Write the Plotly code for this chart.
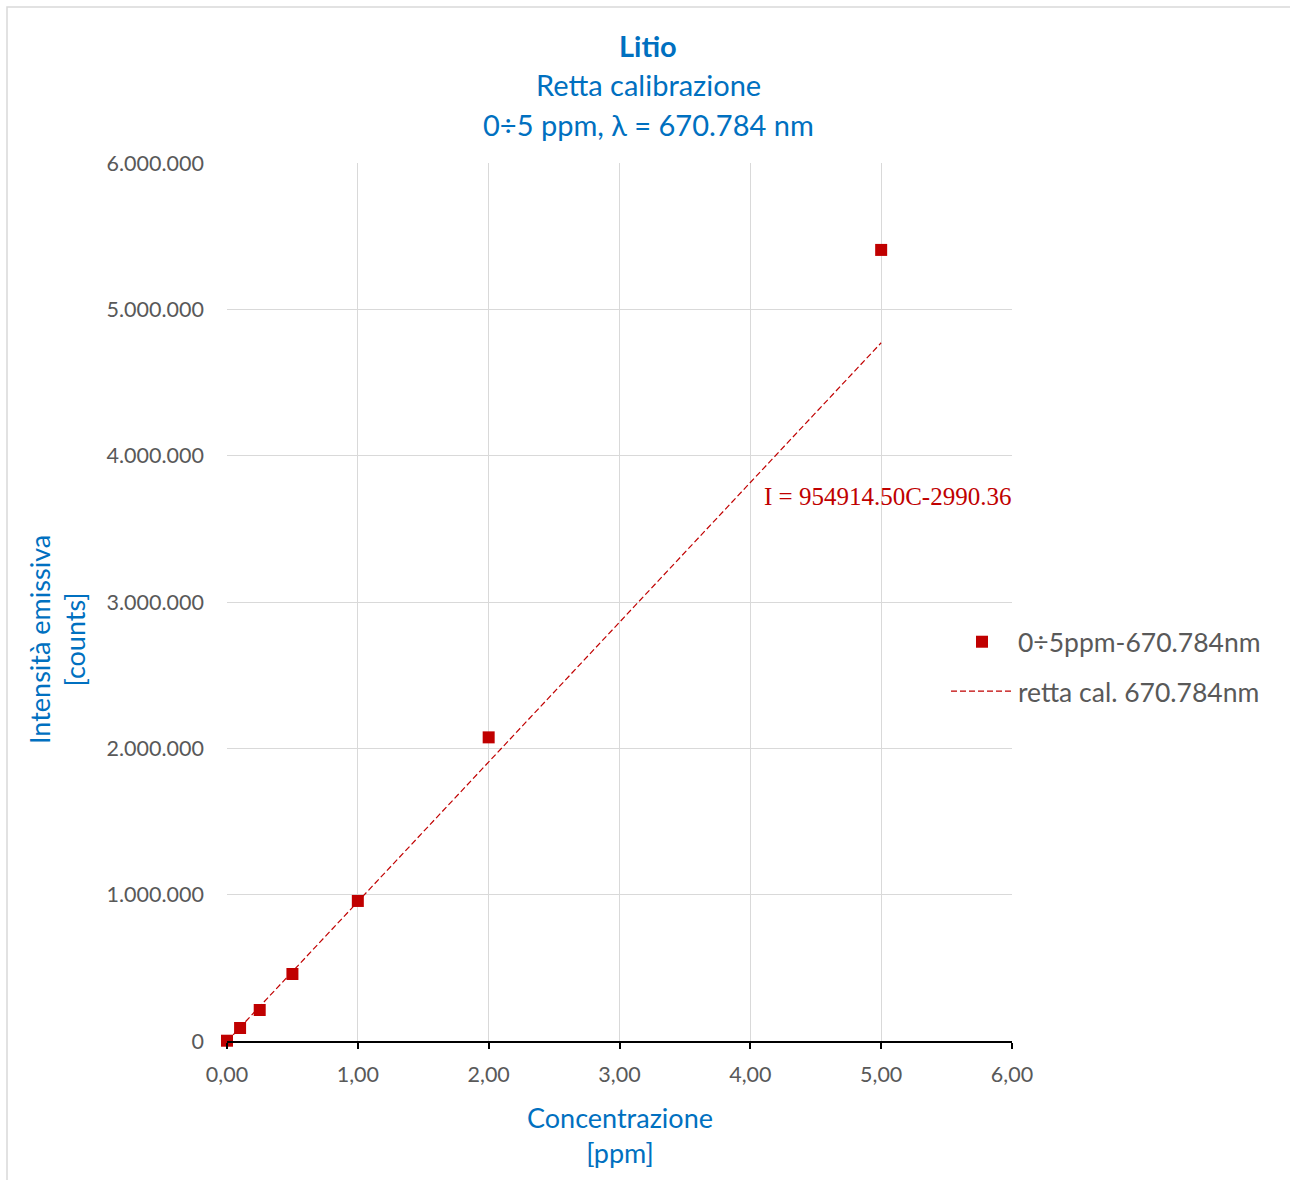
import plotly.graph_objects as go

# Calibration data: lithium emission at 670.784 nm
conc_ppm = [0.0, 0.1, 0.25, 0.5, 1.0, 2.0, 5.0]
intensity_counts = [2000, 89000, 212000, 458000, 957000, 2075000, 5406000]

# Calibration line parameters (I = slope*C + intercept)
slope = 954914.50
intercept = -2990.36
line_conc = [0.0, 5.0]
line_intensity = [slope * c + intercept for c in line_conc]

x_ticks = [0, 1, 2, 3, 4, 5, 6]
y_ticks = [0, 1000000, 2000000, 3000000, 4000000, 5000000, 6000000]

W, H = 1290, 1180
PL, PR, PT, PB = 227, 1012, 163, 1041  # plot area in pixels


def px(x):
    return (x - PL) / (PR - PL)


def py(y):
    return (PB - y) / (PB - PT)


RED = "#C00000"
BLUE = "#0070C0"
GRAY = "#595959"
GRID = "#D9D9D9"
FONT = "Lato, Open Sans, sans-serif"

fig = go.Figure()
fig.add_trace(go.Scatter(
    x=conc_ppm, y=intensity_counts, mode="markers",
    name="0÷5ppm-670.784nm", legendgroup="a", cliponaxis=False,
    marker=dict(symbol="square", size=12, color=RED),
))
fig.add_trace(go.Scatter(
    x=line_conc, y=line_intensity, mode="lines",
    name="retta cal. 670.784nm", legendgroup="b",
    line=dict(color=RED, width=1.2, dash="6px,3px"),
))

annotations = [
    dict(text="<b>Litio</b>", x=px(648), y=py(45), font=dict(size=29, color=BLUE)),
    dict(text="Retta calibrazione", x=px(648), y=py(84), font=dict(size=29, color=BLUE)),
    dict(text="0÷5 ppm, λ = 670.784 nm", x=px(648), y=py(125), font=dict(size=29, color=BLUE)),
    dict(text="Concentrazione<br>[ppm]", x=px(620), y=py(1135), font=dict(size=27, color=BLUE)),
    dict(text="Intensità emissiva<br>[counts]", x=px(57), y=py(640), textangle=-90,
         font=dict(size=27, color=BLUE)),
    dict(text="I = 954914.50C-2990.36", x=px(887), y=py(497),
         font=dict(size=25, color=RED, family="Liberation Serif, serif")),
]
for a in annotations:
    a.update(xref="paper", yref="paper", showarrow=False,
             xanchor="center", yanchor="middle")

fig.update_layout(
    width=W, height=H,
    margin=dict(l=PL, r=W - PR, t=PT, b=H - PB, pad=0),
    paper_bgcolor="white", plot_bgcolor="white",
    font=dict(family=FONT, color=GRAY, size=21),
    separators=",.",
    annotations=annotations,
    showlegend=True,
    legend=dict(
        x=px(946), y=py(618), xanchor="left", yanchor="top",
        font=dict(size=26.5, color=GRAY), traceorder="grouped",
        tracegroupgap=12, itemwidth=62, bgcolor="rgba(0,0,0,0)",
    ),
    shapes=[dict(type="rect", xref="paper", yref="paper",
                 x0=px(7), x1=px(1296), y0=py(1186), y1=py(7),
                 line=dict(color=GRID, width=1.5), layer="below")],
)
fig.update_xaxes(
    range=[0, 6], tickvals=x_ticks, tickformat=".2f",
    showgrid=True, gridcolor=GRID, gridwidth=1,
    showline=True, linecolor="black", linewidth=1.5,
    ticks="outside", ticklen=6, tickcolor="black", tickwidth=1.5,
    ticklabelstandoff=7, zeroline=False, mirror=False,
    tickfont=dict(size=21.5, color=GRAY),
)
fig.update_yaxes(
    range=[0, 6000000], tickvals=y_ticks, tickformat=",.0f",
    showgrid=True, gridcolor=GRID, gridwidth=1,
    showline=False, zeroline=False, ticks="",
    ticklabelstandoff=22, tickfont=dict(size=21.5, color=GRAY),
)

fig.write_html("out.html")
